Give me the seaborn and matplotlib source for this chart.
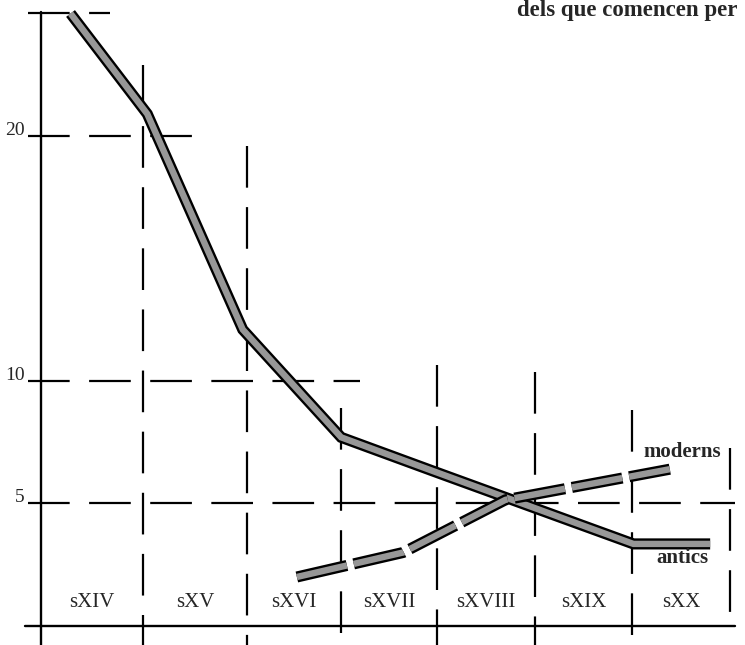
import matplotlib
matplotlib.use("Agg")
import matplotlib.pyplot as plt
import matplotlib.patheffects as pe
import seaborn as sns

# century columns along the x axis (one unit per century)
centuries = ['sXIV', 'sXV', 'sXVI', 'sXVII', 'sXVIII', 'sXIX', 'sXX']
# hand-drawn column boundaries (not quite evenly spaced in the original)
boundaries = [1.037, 2.094, 3.049, 4.024, 5.02, 6.006, 7.0]

# series (x in century units, y in the chart's scale)
antics_x = [0.30, 1.08, 2.05, 3.05, 4.00, 6.02, 6.80]
antics = [25.0, 20.9, 12.1, 7.7, 6.3, 3.35, 3.35]
moderns_x = [2.60, 3.68, 4.72, 6.39]
moderns = [2.0, 3.0, 5.15, 6.4]

ytick_values = [5, 10, 20]
ytick_labels = ['5', '10', '20']

sns.set_style('white')
plt.rcParams['font.family'] = ['Liberation Serif', 'DejaVu Serif']
plt.rcParams['lines.scale_dashes'] = False

fig = plt.figure(figsize=(7.45, 6.45), dpi=100)
ax = fig.add_axes([0, 0, 1, 1])
ax.set_xlim(-0.4167, 7.154)
ax.set_ylim(-0.776, 25.551)
ax.axis('off')

grid_kw = dict(color='black', lw=1.6, dashes=(30, 14), solid_capstyle='butt', dash_capstyle='butt')

# axes drawn by hand like the original
ax.plot([0, 0], [25.06, -0.78], color='black', lw=1.7)
ax.plot([-0.16, 7.05], [0, 0], color='black', lw=1.7)

# horizontal dashed guides, each stopping where the original does
h_ends = {25: 0.70, 20: 1.57, 10: 3.24, 5: 7.05}
for yv, xe in h_ends.items():
    ax.plot([-0.13, xe], [yv, yv], **grid_kw)

# vertical dashed guides at the century boundaries
v_tops = [22.9, 19.6, 8.9, 10.65, 10.37, 8.8, 7.27]
v_bottoms = [-0.78, -0.78, -0.6, -0.78, -0.78, -0.6, 0.04]
for xb, top, bot in zip(boundaries, v_tops, v_bottoms):
    ax.plot([xb, xb], [top, bot], **grid_kw)

# data lines: speckled gray core with black outline
outline = [pe.Stroke(linewidth=8.0, foreground='black'), pe.Normal()]
sns.lineplot(x=antics_x, y=antics, ax=ax, color='#979797', lw=4.6,
             path_effects=outline, solid_capstyle='butt', solid_joinstyle='miter')
sns.lineplot(x=moderns_x, y=moderns, ax=ax, color='#979797', lw=4.6,
             linestyle=(0, (37, 5)), dash_capstyle='butt',
             path_effects=outline)

# texts
centers = [(a + b) / 2 for a, b in zip([0] + boundaries[:-1], boundaries)]
for xc, name in zip(centers, centuries):
    ax.text(xc, 0.94, name, ha='center', va='center', fontsize=15)

for yv, lab in zip(ytick_values, ytick_labels):
    ax.text(-0.163, yv + 0.05, lab, ha='right', va='baseline', fontsize=14)

ax.text(6.52, 7.1, 'moderns', ha='center', va='center', fontsize=15, fontweight='bold')
ax.text(6.52, 2.78, 'antics', ha='center', va='center', fontsize=15, fontweight='bold')
ax.text(7.08, 24.9, 'dels que comencen per', ha='right', va='baseline',
        fontsize=16.5, fontweight='bold')

fig.savefig('out.png', dpi=100)
